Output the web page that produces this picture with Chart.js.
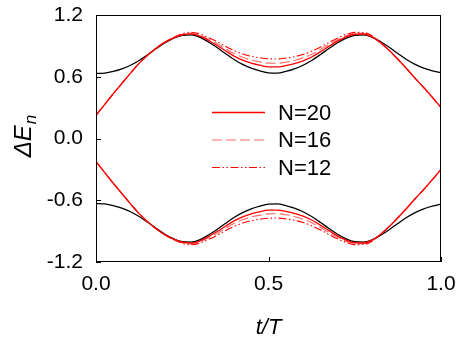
<!DOCTYPE html>
<html><head><meta charset="utf-8">
<script src="https://cdn.jsdelivr.net/npm/chart.js@4.4.1/dist/chart.umd.min.js"></script>
<style>html,body{margin:0;padding:0;background:#fff;}canvas{display:block;}</style>
</head><body>
<canvas id="c" width="463" height="337" style="width:463px;height:337px"></canvas>
<script>
const tValues = [0,0.025,0.05,0.075,0.1,0.125,0.15,0.175,0.2,0.225,0.25,0.275,0.3,0.325,0.35,0.375,0.4,0.425,0.45,0.475,0.5,0.525,0.55,0.575,0.6,0.625,0.65,0.675,0.7,0.725,0.75,0.775,0.8,0.825,0.85,0.875,0.9,0.925,0.95,0.975,1.0];

const blackUpper = [0.632,0.636,0.652,0.677,0.712,0.758,0.814,0.874,0.93,0.975,1.003,1.007,0.985,0.94,0.886,0.826,0.768,0.72,0.683,0.657,0.638,0.636,0.652,0.677,0.712,0.758,0.814,0.874,0.93,0.975,1.003,1.007,0.985,0.94,0.886,0.826,0.768,0.72,0.683,0.657,0.638];
const blackLower = [-0.632,-0.636,-0.652,-0.677,-0.712,-0.758,-0.814,-0.874,-0.93,-0.975,-1.003,-1.007,-0.985,-0.94,-0.886,-0.826,-0.768,-0.72,-0.683,-0.657,-0.638,-0.636,-0.652,-0.677,-0.712,-0.758,-0.814,-0.874,-0.93,-0.975,-1.003,-1.007,-0.985,-0.94,-0.886,-0.826,-0.768,-0.72,-0.683,-0.657,-0.638];

const n20Upper = [0.225,0.33,0.435,0.535,0.635,0.73,0.81,0.88,0.937,0.978,1.008,1.016,0.997,0.955,0.906,0.853,0.801,0.761,0.732,0.712,0.696,0.695,0.708,0.727,0.755,0.792,0.842,0.895,0.946,0.988,1.013,1.015,0.988,0.93,0.855,0.77,0.68,0.585,0.495,0.40,0.30];
const n20Lower = [-0.225,-0.33,-0.435,-0.535,-0.635,-0.73,-0.81,-0.88,-0.937,-0.978,-1.008,-1.016,-0.997,-0.955,-0.906,-0.853,-0.801,-0.761,-0.732,-0.712,-0.696,-0.695,-0.708,-0.727,-0.755,-0.792,-0.842,-0.895,-0.946,-0.988,-1.013,-1.015,-0.988,-0.93,-0.855,-0.77,-0.68,-0.585,-0.495,-0.40,-0.30];

const n16Upper = [0.225,0.33,0.435,0.535,0.635,0.73,0.81,0.88,0.937,0.98,1.012,1.023,1.006,0.967,0.923,0.873,0.826,0.789,0.762,0.745,0.732,0.731,0.741,0.758,0.783,0.818,0.863,0.914,0.959,0.998,1.021,1.022,0.992,0.93,0.855,0.77,0.68,0.585,0.495,0.40,0.30];
const n16Lower = [-0.225,-0.33,-0.435,-0.535,-0.635,-0.73,-0.81,-0.88,-0.937,-0.98,-1.012,-1.023,-1.006,-0.967,-0.923,-0.873,-0.826,-0.789,-0.762,-0.745,-0.732,-0.731,-0.741,-0.758,-0.783,-0.818,-0.863,-0.914,-0.959,-0.998,-1.021,-1.022,-0.992,-0.93,-0.855,-0.77,-0.68,-0.585,-0.495,-0.40,-0.30];

const n12Upper = [0.225,0.33,0.435,0.535,0.635,0.73,0.81,0.88,0.937,0.982,1.018,1.033,1.018,0.983,0.943,0.896,0.855,0.822,0.799,0.784,0.774,0.773,0.781,0.795,0.816,0.848,0.887,0.933,0.975,1.01,1.031,1.03,0.998,0.93,0.855,0.77,0.68,0.585,0.495,0.40,0.30];
const n12Lower = [-0.225,-0.33,-0.435,-0.535,-0.635,-0.73,-0.81,-0.88,-0.937,-0.982,-1.018,-1.033,-1.018,-0.983,-0.943,-0.896,-0.855,-0.822,-0.799,-0.784,-0.774,-0.773,-0.781,-0.795,-0.816,-0.848,-0.887,-0.933,-0.975,-1.01,-1.031,-1.03,-0.998,-0.93,-0.855,-0.77,-0.68,-0.585,-0.495,-0.40,-0.30];

const legendLabels = ['N=20','N=16','N=12'];
const xTicks = [0, 0.5, 1.0];
const yTicks = [-1.2, -0.6, 0, 0.6, 1.2];
const xTitle = 't/T';
const yTitleMain = '\u0394E';
const yTitleSub = 'n';

const FONT = '"Liberation Sans", Arial, Helvetica, sans-serif';

const styleBlack = {borderColor:'#000000', borderWidth:1.3, borderDash:[]};
const style20 = {borderColor:'#ff0000', borderWidth:1.3, borderDash:[]};
const style16 = {borderColor:'rgba(255,60,60,0.75)', borderWidth:1.2, borderDash:[10,4]};
const style12 = {borderColor:'#ff0000', borderWidth:1.1, borderDash:[8,2.5,1.5,2.5,1.5,2.5]};

function mk(vals, st, order){
  return Object.assign({
    data: tValues.map((t,i)=>({x:t, y:vals[i]})),
    pointRadius:0, fill:false, cubicInterpolationMode:'monotone', order:order
  }, st);
}

const datasets = [
  mk(n20Upper, style20, 1), mk(n20Lower, style20, 1),
  mk(n16Upper, style16, 2), mk(n16Lower, style16, 2),
  mk(n12Upper, style12, 3), mk(n12Lower, style12, 3),
  mk(blackUpper, styleBlack, 4), mk(blackLower, styleBlack, 4)
];

const decor = {
  id:'decor',
  afterDraw(chart){
    const {ctx, chartArea:a, scales:{x,y}} = chart;
    ctx.save();
    ctx.strokeStyle='#000'; ctx.lineWidth=1; ctx.setLineDash([]);
    ctx.strokeRect(a.left+0.5, a.top+0.5, a.right-a.left-1, a.bottom-a.top-1);
    ctx.beginPath();
    yTicks.forEach(v=>{ const py=Math.round(y.getPixelForValue(v))+0.5; ctx.moveTo(a.left, py); ctx.lineTo(a.left+5, py); });
    xTicks.forEach(v=>{ const px=Math.round(x.getPixelForValue(v))+0.5; ctx.moveTo(px, a.bottom); ctx.lineTo(px, a.bottom-5); });
    ctx.stroke();

    // legend
    const styles=[style20, style16, style12];
    const ly=[112.5, 140, 167.5];
    styles.forEach((s,i)=>{
      ctx.beginPath();
      ctx.strokeStyle=s.borderColor; ctx.lineWidth=s.borderWidth; ctx.setLineDash(s.borderDash);
      ctx.moveTo(212, ly[i]); ctx.lineTo(265, ly[i]); ctx.stroke();
      ctx.setLineDash([]);
      ctx.fillStyle='#000'; ctx.font='22px '+FONT; ctx.textAlign='left'; ctx.textBaseline='middle';
      ctx.fillText(legendLabels[i], 278, ly[i]+1);
    });

    // x title
    ctx.fillStyle='#000';
    ctx.font='italic 22px '+FONT; ctx.textAlign='center'; ctx.textBaseline='alphabetic';
    ctx.fillText(xTitle, (a.left+a.right)/2, 334);

    // y title
    ctx.save();
    ctx.translate(31, 136);
    ctx.rotate(-Math.PI/2);
    ctx.font='italic 24px '+FONT;
    const w1=ctx.measureText(yTitleMain).width;
    ctx.font='italic 17px '+FONT;
    const w2=ctx.measureText(yTitleSub).width;
    const start=-(w1+w2+1)/2;
    ctx.textAlign='left';
    ctx.font='italic 24px '+FONT;
    ctx.fillText(yTitleMain, start, 0);
    ctx.font='italic 17px '+FONT;
    ctx.fillText(yTitleSub, start+w1+1, 5);
    ctx.restore();
    ctx.restore();
  }
};

new Chart(document.getElementById('c'), {
  type:'line',
  data:{datasets},
  options:{
    responsive:false, animation:false, devicePixelRatio:1,
    layout:{padding:{top:15, right:22, left:0, bottom:0}},
    plugins:{legend:{display:false}, tooltip:{enabled:false}},
    scales:{
      x:{type:'linear', min:0, max:1,
        afterBuildTicks:s=>{ s.ticks = xTicks.map(v=>({value:v})); },
        afterFit:s=>{ s.height = 75; s.paddingLeft = 0; s.paddingRight = 0; },
        grid:{display:false, drawTicks:false}, border:{display:false},
        ticks:{padding:10, color:'#000', font:{family:FONT, size:21}, maxRotation:0, callback:v=>Number(v).toFixed(1)}
      },
      y:{type:'linear', min:-1.2, max:1.2,
        afterBuildTicks:s=>{ s.ticks = yTicks.map(v=>({value:v})); },
        afterFit:s=>{ s.width = 96; s.paddingTop = 0; s.paddingBottom = 0; },
        grid:{display:false, drawTicks:false}, border:{display:false},
        ticks:{padding:13, color:'#000', font:{family:FONT, size:21}, callback:v=>Number(v).toFixed(1)}
      }
    }
  },
  plugins:[decor]
});
</script>
</body></html>
